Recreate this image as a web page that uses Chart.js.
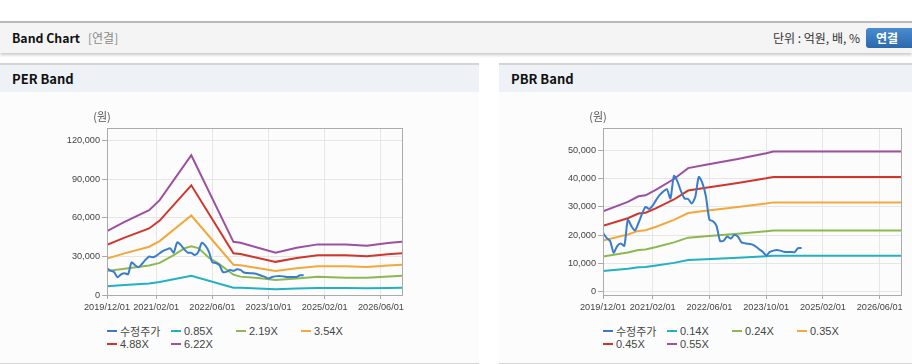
<!DOCTYPE html>
<html><head><meta charset="utf-8">
<script src="https://cdn.jsdelivr.net/npm/chart.js@4"></script>
<style>
html,body{margin:0;padding:0;background:#fff;}
body{width:912px;height:364px;position:relative;overflow:hidden;font-family:"Noto Sans CJK KR","Liberation Sans",sans-serif;}
.topbar{position:absolute;left:0;top:21px;width:912px;height:30px;background:#f4f4f4;border-top:2px solid #b9b9b9;box-shadow:0 2px 3px rgba(0,0,0,0.22);}
.topbar .t{position:absolute;left:12px;top:6px;font-size:12.3px;font-weight:bold;color:#111;line-height:18px;}
.topbar .s{position:absolute;left:88px;top:6px;font-size:12px;color:#8a8a8a;line-height:18px;}
.topbar .u{position:absolute;right:52px;top:6px;font-size:12px;color:#333;line-height:18px;}
.topbar .b{position:absolute;left:866px;top:5px;width:50px;height:20px;border-radius:3px;background:linear-gradient(#4a8bd0,#2a68ac);color:#fff;font-weight:bold;font-size:12px;line-height:20px;text-indent:10px;}
.panel{position:absolute;top:63px;height:298px;background:#fcfcfc;border-top:2px solid #d4d4d4;border-bottom:2px solid #d6d6d6;}
.panel .h{height:27px;background:#eef2f7;}
.panel .h span{position:absolute;left:12px;top:5px;font-size:13px;font-weight:bold;color:#111;line-height:18px;}
.cv{position:absolute;top:92px;}
.legend{position:absolute;top:324px;display:grid;grid-template-columns:64px 65px 65px 65px;grid-auto-rows:13px;font-family:"Liberation Sans","Noto Sans CJK KR",sans-serif;font-size:11px;color:#444;}
.legend div{display:flex;align-items:center;white-space:nowrap;}
.legend i{display:inline-block;width:10px;height:2px;margin-right:3px;}
</style></head>
<body>
<div class="topbar"><span class="t">Band Chart</span><span class="s">[연결]</span><span class="u">단위 : 억원, 배, %</span><span class="b">연결</span></div>
<div class="panel" style="left:0;width:479px;"><div class="h"><span>PER Band</span></div></div>
<div class="panel" style="left:499px;width:413px;"><div class="h"><span>PBR Band</span></div></div>
<canvas id="per" class="cv" style="left:0" width="479" height="226"></canvas>
<canvas id="pbr" class="cv" style="left:499px" width="413" height="226"></canvas>
<div id="perLegend" class="legend" style="left:107px"></div>
<div id="pbrLegend" class="legend" style="left:603px"></div>
<script>
// ---------- data ----------
const xStart = '2019/12';
const xEnd = '2026/12';
const xTickLabels = ['2019/12/01','2021/02/01','2022/06/01','2023/10/01','2025/02/01','2026/06/01'];
const perYTicks = [0,30000,60000,90000,120000];
const pbrYTicks = [0,10000,20000,30000,40000,50000];
const priceLabel = '수정주가';
const priceStart = '2019/12';   // monthly from here
const price = [20800,19000,17900,13800,16100,17000,16200,25400,23200,21600,
  24300,27500,30000,29300,30500,32500,34300,35500,36300,33000,
  41000,39000,35500,33000,32800,31200,33500,40600,38500,33800,
  25500,24900,23300,17900,18000,19500,18800,20000,19500,17500,
  17100,16900,16700,16000,15000,14100,12800,14000,14500,14700,
  14500,14100,14000,14000,14000,15400,15400];

const perLabels = ['0.85X','2.19X','3.54X','4.88X','6.22X'];
const perDates = ['2019/12','2020/05','2020/12','2021/03','2021/12','2022/12','2023/02','2023/12','2024/06','2024/12','2025/08','2026/02','2026/08','2026/12'];
const per085 = [6800,7800,9000,10100,14900,5700,5550,4500,5000,5400,5400,5250,5500,5650];
const per354 = [28300,32400,37600,42000,61900,23600,23100,18700,20900,22400,22400,21800,23000,23600];
const per488 = [39000,44700,51800,57900,85400,32500,31900,25800,28800,30900,30900,30100,31700,32500];
const per622 = [49700,57000,66000,73800,108800,41400,40600,32900,36700,39400,39400,38300,40400,41400];
const per219Dates = ['2019/12','2020/05','2020/12','2021/03','2021/07','2021/10','2021/12','2022/02','2022/05','2022/08','2022/12','2023/02','2023/07','2023/12','2024/06','2024/12','2025/08','2026/02','2026/12'];
const per219 = [18700,20500,23000,25000,31100,36300,38000,36500,29000,24000,15800,14300,13200,11700,12900,14200,13500,13500,15000];

const pbrLabels = ['0.14X','0.24X','0.35X','0.45X','0.55X'];
const pbrDates = ['2019/12','2020/07','2020/10','2020/12','2021/03','2021/08','2021/12','2022/05','2023/02','2023/10','2023/12','2026/12'];
const pbr014 = [7250,8090,8600,8690,9190,10150,11140,11440,11970,12490,12640,12640];
const pbr024 = [12420,13860,14740,14890,15760,17410,19100,19620,20520,21410,21670,21670];
const pbr035 = [18120,20220,21490,21710,22980,25390,27850,28610,29930,31220,31610,31610];
const pbr045 = [23290,25990,27630,27920,29550,32640,35810,36780,38480,40140,40640,40640];
const pbr055 = [28470,31770,33770,34120,36120,39890,43770,44950,47030,49060,49670,49670];

const colors = ['#3a7ccc','#22b1c1','#8cb94f','#f1a83c','#d1362c','#9b50a0'];

// ---------- helpers ----------
function mi(s){const p=s.split('/');return (+p[0]-2019)*12+(+p[1]-12);}
function pts(dates,vals){return vals.map((v,i)=>({x:mi(dates[i]),y:v}));}
function monthly(start,vals){const s=mi(start);return vals.map((v,i)=>({x:s+i,y:v}));}
const tickMap={};xTickLabels.forEach(l=>tickMap[mi(l)]=l);
const tickFont={family:'"Liberation Sans",Arial,sans-serif',size:9.2};

const framePlugin={id:'frame',afterDraw(c){const a=c.chartArea,ctx=c.ctx;ctx.save();
  ctx.strokeStyle='#ababab';ctx.lineWidth=1;ctx.strokeRect(Math.round(a.left)+0.5,Math.round(a.top)+0.5,Math.round(a.right-a.left),Math.round(a.bottom-a.top));
  ctx.fillStyle='#555';ctx.font='11px "Noto Sans CJK KR", sans-serif';ctx.textAlign='center';ctx.textBaseline='middle';
  ctx.fillText('(원)',a.left-5,a.top-11);ctx.restore();}};

function makeChart(id,legendId,bandLabels,bandSets,yMin,yMax,yTicks,yWidth,padRight){
  const ds=[{label:priceLabel,data:monthly(priceStart,price),borderColor:colors[0],tension:0.25}];
  bandSets.forEach((d,i)=>ds.push({label:bandLabels[i],data:d,borderColor:colors[i+1],tension:0}));
  ds.forEach(d=>{d.borderWidth=2;d.pointRadius=0;d.fill=false;d.backgroundColor=d.borderColor;});
  const chart=new Chart(document.getElementById(id),{type:'line',data:{datasets:ds},
    options:{responsive:false,animation:false,devicePixelRatio:1,
      layout:{padding:{top:36,right:padRight,left:0,bottom:0}},
      plugins:{legend:{display:false},tooltip:{enabled:false}},
      scales:{
        x:{type:'linear',min:mi(xStart),max:mi(xEnd),
          afterBuildTicks(s){s.ticks=xTickLabels.map(l=>({value:mi(l)}));},
          afterFit(s){s.height=23;},
          grid:{color:'#e6e6e6',tickLength:4,tickColor:'#aaa'},border:{color:'#ababab'},
          ticks:{autoSkip:false,maxRotation:0,padding:3,color:'#444',font:tickFont,callback:v=>tickMap[v]||''}},
        y:{min:yMin,max:yMax,
          afterBuildTicks(s){s.ticks=yTicks.map(v=>({value:v}));},
          afterFit(s){s.width=yWidth;},
          grid:{color:'#e6e6e6',tickLength:5,tickColor:'#aaa'},border:{color:'#ababab'},
          ticks:{padding:2,color:'#444',font:tickFont,callback:v=>v.toLocaleString('en-US')}}
      }},plugins:[framePlugin]});
  const lg=document.getElementById(legendId);
  chart.data.datasets.forEach(d=>{const e=document.createElement('div');e.innerHTML='<i style="background:'+d.borderColor+'"></i>'+d.label;lg.appendChild(e);});
  return chart;
}

makeChart('per','perLegend',perLabels,[pts(perDates,per085),pts(per219Dates,per219),pts(perDates,per354),pts(perDates,per488),pts(perDates,per622)],0,130000,perYTicks,107,77);
makeChart('pbr','pbrLegend',pbrLabels,[pts(pbrDates,pbr014),pts(pbrDates,pbr024),pts(pbrDates,pbr035),pts(pbrDates,pbr045),pts(pbrDates,pbr055)],-1250,58000,pbrYTicks,104,11);
</script>
</body></html>
